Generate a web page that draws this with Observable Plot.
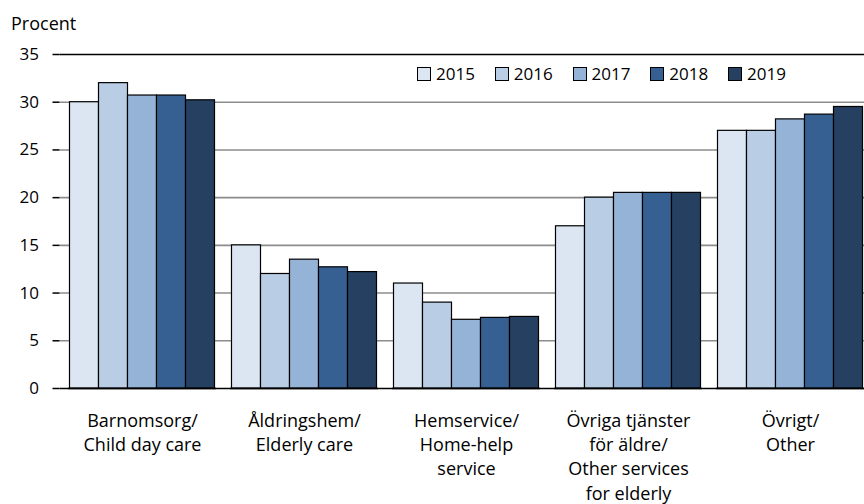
<!DOCTYPE html>
<html>
<head>
<meta charset="utf-8">
<script src="https://cdn.jsdelivr.net/npm/d3@7"></script>
<script src="https://cdn.jsdelivr.net/npm/@observablehq/plot@0.6"></script>
<style>
  html, body { margin: 0; padding: 0; overflow: hidden; background: #fff; }
  #wrap { position: relative; width: 864px; height: 504px; overflow: hidden; font-family: "Open Sans", sans-serif; color: #000; }
  #unit { position: absolute; left: 11px; top: 14px; font-size: 18px; line-height: 18px; }
  .leg { position: absolute; top: 64px; font-size: 17px; line-height: 20px; display: flex; align-items: center; }
  .sw { width: 12px; height: 12px; border: 1px solid #000; margin-right: 5px; }
  svg { position: absolute; left: 0; top: 0; max-width: none !important; }
</style>
</head>
<body>
<div id="wrap">
  <div id="unit">Procent</div>
</div>
<script>
const groups = [
  "Barnomsorg/\nChild day care",
  "Åldringshem/\nElderly care",
  "Hemservice/\nHome-help\nservice",
  "Övriga tjänster\nför äldre/\nOther services\nfor elderly",
  "Övrigt/\nOther"
];
const years = ["2015", "2016", "2017", "2018", "2019"];
const values2015 = [30.0, 15.0, 11.0, 17.0, 27.0];
const values2016 = [32.0, 12.0, 9.0, 20.0, 27.0];
const values2017 = [30.7, 13.5, 7.2, 20.5, 28.2];
const values2018 = [30.7, 12.7, 7.4, 20.5, 28.7];
const values2019 = [30.2, 12.2, 7.5, 20.5, 29.5];
const colors = ["#dce6f2", "#b9cde5", "#95b3d7", "#376092", "#254061"];
const yTicks = [0, 5, 10, 15, 20, 25, 30, 35];

const series = [values2015, values2016, values2017, values2018, values2019];
const data = [];
years.forEach((yr, i) => groups.forEach((g, j) => data.push({group: g, year: yr, value: series[i][j]})));

const common = {
  width: 873,
  height: 504,
  marginLeft: 59.5,
  marginRight: 0,
  marginTop: 54,
  marginBottom: 116,
  style: {fontFamily: "Open Sans, sans-serif", fontSize: "17px", color: "#000", background: "transparent", overflow: "visible", maxWidth: "none"}
};
const pad = {paddingInner: 0.0885, paddingOuter: 0.0442};

// background: grid, frame lines, axes and category labels
const back = Plot.plot({
  ...common,
  x: {domain: groups, ...pad, label: null},
  y: {domain: [0, 35], label: null},
  marks: [
    Plot.gridY(yTicks.filter(t => t > 0 && t < 35), {stroke: "#8c8c8c", strokeOpacity: 1, strokeWidth: 1.6}),
    Plot.ruleY([35], {stroke: "#000", strokeWidth: 1.5}),
    Plot.ruleY([0], {stroke: "#000", strokeWidth: 1.5}),
    Plot.axisY(yTicks, {tickSize: 7, tickPadding: 14, line: true, label: null, stroke: "#000", strokeWidth: 1.5, fontSize: 17}),
    Plot.axisX({tickSize: 0, tickPadding: 21, label: null, lineHeight: 1.35, fontSize: 18})
  ]
});

// foreground: the bars, faceted by category
const front = Plot.plot({
  ...common,
  fx: {domain: groups, ...pad, label: null, axis: null},
  x: {domain: years, padding: 0, axis: null},
  y: {domain: [0, 35], axis: null},
  color: {domain: years, range: colors},
  marks: [
    Plot.barY(data, {fx: "group", x: "year", y: "value", fill: "year", stroke: "#000", strokeWidth: 1.2}),
    Plot.ruleY([0], {stroke: "#000", strokeWidth: 1.5})
  ]
});

const wrap = document.getElementById("wrap");
wrap.appendChild(back);
wrap.appendChild(front);

years.forEach((yr, i) => {
  const d = document.createElement("div");
  d.className = "leg";
  d.style.left = (417 + i * 77.75) + "px";
  d.innerHTML = `<span class="sw" style="background:${colors[i]}"></span><span>${yr}</span>`;
  wrap.appendChild(d);
});
</script>
</body>
</html>
